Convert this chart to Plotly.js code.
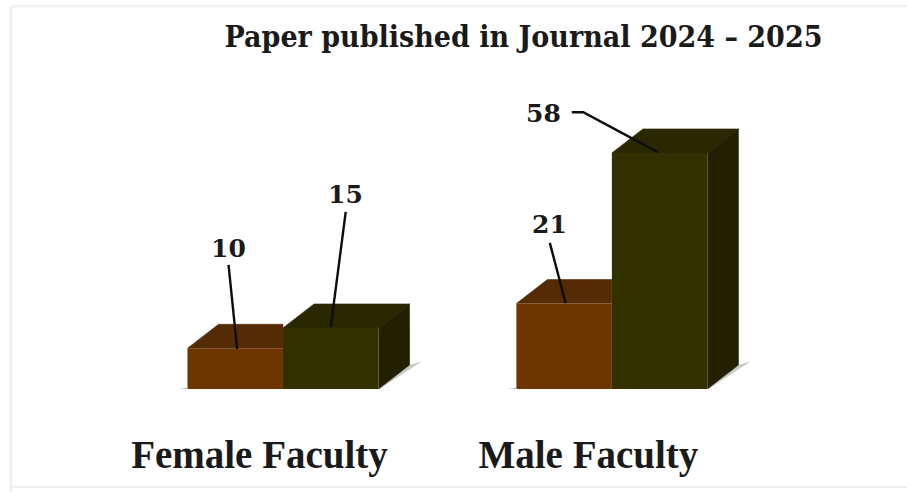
<!DOCTYPE html>
<html>
<head>
<meta charset="utf-8">
<script src="https://cdn.plot.ly/plotly-3.0.1.min.js"></script>
<style>html,body{margin:0;padding:0;background:#fff;overflow:hidden}</style>
</head>
<body>
<div id="chart" style="width:907px;height:492px"></div>
<script>
const categories = ["Female Faculty", "Male Faculty"];
const seriesBrown = [10, 21];
const seriesOlive = [15, 58];
const chartTitle = "Paper published in Journal 2024 – 2025";

// axis-unit positions and styling (1 x unit = one bar width)
const groupCentres = [1.916, 5.36];
const tickShift = -0.246;
const depthX = 0.325, depthY = 5.9;
const COL = {brown:"#6e3600", brownTop:"#552b05", olive:"#333000", oliveTop:"#2a2800", oliveSide:"#222000", shadow:"#c9c9c9"};
// label placement relative to bar centre / value
const leaderBrown = [
  {tip:[0.02,-0.2], path:[[-0.07,20.5]], label:[-0.07,24.4]},
  {tip:[0.016,0.1], path:[[-0.15,14.9]], label:[-0.15,19.3]}
];
const leaderOlive = [
  {tip:[0,0.2], path:[[0.157,28.5]], label:[0.157,32.9]},
  {tip:[-0.02,0.2], path:[[-0.8,10],[-0.92,10]], label:[-1.22,9.8]}
];

const traces = [];
traces.push({type:"bar", name:"Brown", x:groupCentres, y:seriesBrown, width:1, offset:-1,
  marker:{color:COL.brown, line:{width:0}}, showlegend:false, hoverinfo:"y"});
traces.push({type:"bar", name:"Olive", x:groupCentres, y:seriesOlive, width:1, offset:0,
  marker:{color:COL.olive, line:{width:0}}, showlegend:false, hoverinfo:"y"});

function poly(pts, color, edge){
  traces.push({type:"scatter", mode:"lines", x:pts.map(p=>p[0]), y:pts.map(p=>p[1]), fill:"toself", fillcolor:color,
    line:{width:edge, color:color}, hoverinfo:"skip", showlegend:false});
}

// floor shadows
groupCentres.forEach(c=>{
  poly([[c-1.09,0],[c-1,0.4],[c-1,-0.2],[c-1.09,0]], COL.shadow, 0);
  poly([[c+1,-0.2],[c+1+depthX,depthY-1.1],[c+1+depthX+0.13,depthY+0.9],[c+1+depthX,depthY],[c+1,0]], COL.shadow, 0);
  traces[traces.length-1].cliponaxis = false;
  traces[traces.length-2].cliponaxis = false;
});

groupCentres.forEach((c,i)=>{
  const a = seriesBrown[i], b = seriesOlive[i];
  // brown top, hidden behind the olive front on its right
  poly([[c-1,a],[c-1+depthX,a+depthY],[c,a+depthY],[c,a]], COL.brownTop, 0.6);
  // olive top
  poly([[c,b],[c+depthX,b+depthY],[c+1+depthX,b+depthY],[c+1,b]], COL.oliveTop, 0.6);
  // olive side
  poly([[c+1,0],[c+1+depthX,depthY],[c+1+depthX,b+depthY],[c+1,b]], COL.oliveSide, 0.6);
});

const annotations = [];
function leader(barX, val, spec){
  const pts = [[barX+spec.tip[0], val+spec.tip[1]]].concat(spec.path.map(p=>[barX+p[0], val+p[1]]));
  traces.push({type:"scatter", mode:"lines", x:pts.map(p=>p[0]), y:pts.map(p=>p[1]),
    line:{color:"#0d0d0d", width:2.4}, hoverinfo:"skip", showlegend:false});
  annotations.push({xref:"x", yref:"y", x:barX+spec.label[0], y:val+spec.label[1], text:String(val),
    showarrow:false, xanchor:"center", yanchor:"middle",
    font:{family:"DejaVu Serif", size:25, color:"#1a1a1a", weight:700}});
}
groupCentres.forEach((c,i)=>{
  leader(c-0.5, seriesBrown[i], leaderBrown[i]);
  leader(c+0.5, seriesOlive[i], leaderOlive[i]);
});

const px = v => (v-100)/700;
const py = v => 1-(v-90)/299;
const frame = "#efefef";
const shapes = [
  {type:"line", xref:"paper", yref:"paper", x0:px(11), x1:px(11), y0:py(6), y1:py(492), line:{color:frame,width:3}},
  {type:"line", xref:"paper", yref:"paper", x0:px(11), x1:px(907), y0:py(6), y1:py(6), line:{color:"#f4f4f4",width:3}},
  {type:"line", xref:"paper", yref:"paper", x0:px(11), x1:px(907), y0:py(487), y1:py(487), line:{color:frame,width:2}}
];

const layout = {
  width:907, height:492, paper_bgcolor:"#fff", plot_bgcolor:"rgba(0,0,0,0)",
  margin:{l:100, r:107, t:90, b:103},
  barmode:"overlay", showlegend:false,
  title:{text:chartTitle, font:{family:"DejaVu Serif Condensed", size:30, weight:700, color:"#1a1a1a"},
    x:523.5/907, xanchor:"center", y:1-36/492, yanchor:"middle"},
  xaxis:{range:[0,700/95.5], showgrid:false, zeroline:false, showline:false,
    tickmode:"array", tickvals:groupCentres.map(c=>c+tickShift), ticktext:categories,
    ticks:"outside", ticklen:31, tickcolor:"rgba(0,0,0,0)",
    tickfont:{family:"Liberation Serif", size:39, weight:700, color:"#1a1a1a"}},
  yaxis:{range:[0,299/4.07], visible:false},
  annotations:annotations, shapes:shapes
};
Plotly.newPlot("chart", traces, layout, {displayModeBar:false, staticPlot:true});
</script>
</body>
</html>
